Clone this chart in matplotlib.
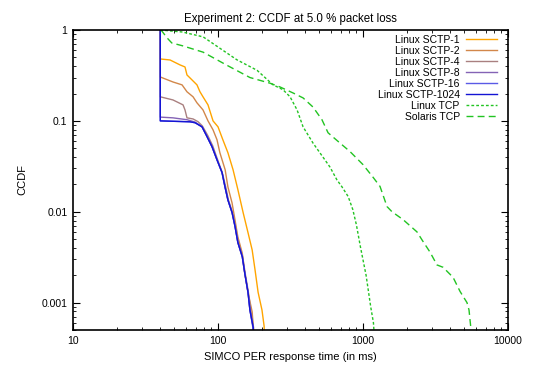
import matplotlib
matplotlib.use("Agg")
import matplotlib.pyplot as plt
from matplotlib.ticker import LogLocator, FixedLocator, FixedFormatter, NullFormatter

plt.rcParams['font.family'] = ['Liberation Sans', 'DejaVu Sans']

# response time (ms) / CCDF pairs for each configuration
sctp1_x = [40, 40, 46.7, 54.7, 59.2, 61.1, 64.1, 71.6, 75.1, 78.8, 85.3, 92.4, 100, 108, 117, 127, 137, 149, 161, 172, 180, 189, 201, 208, 209]
sctp1_y = [1.0, 0.48, 0.468, 0.413, 0.392, 0.32, 0.297, 0.249, 0.209, 0.184, 0.15, 0.1, 0.086, 0.062, 0.0447, 0.029, 0.0176, 0.0098, 0.0059, 0.0038, 0.0023, 0.0013, 0.00083, 0.00055, 0.0004]

sctp2_x = [40, 40, 48.9, 56.5, 61.1, 67.3, 71.6, 78.8, 85.3, 92.4, 98.4, 103, 112, 117, 125, 131, 137, 147, 153, 161, 172, 175, 176]
sctp2_y = [1.0, 0.304, 0.268, 0.249, 0.209, 0.184, 0.158, 0.132, 0.1, 0.0797, 0.062, 0.0447, 0.029, 0.0188, 0.0125, 0.0081, 0.0053, 0.0035, 0.0021, 0.0013, 0.00079, 0.00055, 0.0004]

sctp4_x = [40, 40, 48.9, 57.4, 59.2, 61.1, 67.3, 72.8, 78, 85, 92, 99, 107, 113, 118, 126, 132, 138, 148, 154, 162, 168, 176, 177]
sctp4_y = [1.0, 0.184, 0.17, 0.15, 0.132, 0.108, 0.105, 0.098, 0.088, 0.069, 0.053, 0.038, 0.027, 0.0188, 0.0135, 0.0098, 0.0069, 0.0046, 0.0032, 0.0021, 0.0013, 0.00083, 0.00053, 0.0004]

sctp8_x = [40, 40, 48.9, 61.1, 69.5, 77.6, 84, 91, 98.4, 106.6, 111.7, 117, 125, 131, 137, 147, 153, 161, 166, 174, 175]
sctp8_y = [1.0, 0.11, 0.108, 0.103, 0.097, 0.086, 0.068, 0.052, 0.0373, 0.027, 0.0188, 0.0135, 0.0098, 0.0069, 0.0046, 0.0032, 0.0021, 0.0013, 0.00083, 0.00053, 0.0004]

sctp16_x = [40, 40, 64.1, 69.5, 77.6, 84, 90.9, 98.4, 106.6, 111.7, 117, 125, 131, 137, 147, 153, 161, 166, 175, 176]
sctp16_y = [1.0, 0.1, 0.0977, 0.0954, 0.086, 0.067, 0.052, 0.0373, 0.027, 0.0188, 0.0135, 0.0098, 0.0069, 0.0046, 0.0032, 0.0021, 0.0013, 0.00083, 0.00053, 0.0004]

sctp1024_x = [40, 40, 64.1, 69.5, 77.6, 84, 90.9, 98.4, 106.6, 111.7, 117, 125, 131, 137, 147, 153, 161, 166, 175, 176]
sctp1024_y = [1.0, 0.1, 0.0977, 0.0954, 0.086, 0.067, 0.052, 0.0373, 0.027, 0.0188, 0.0135, 0.0098, 0.0069, 0.0046, 0.0032, 0.0021, 0.0013, 0.00083, 0.00053, 0.0004]

linux_tcp_x = [40, 57, 79, 103, 135, 186, 239, 281, 314, 351, 386, 452, 529, 592, 660, 716, 790, 850, 900, 960, 1050, 1130, 1180, 1200]
linux_tcp_y = [1.0, 0.95, 0.84, 0.63, 0.47, 0.36, 0.25, 0.22, 0.184, 0.132, 0.086, 0.057, 0.040, 0.031, 0.0225, 0.0188, 0.0147, 0.0106, 0.0072, 0.0041, 0.0020, 0.0009, 0.0006, 0.0004]

solaris_tcp_x = [40, 41, 44.5, 48, 57, 79, 115, 166, 228, 268, 329, 386, 452, 521, 574, 694, 813, 1000, 1172, 1310, 1464, 1585, 1888, 2357, 2552, 2897, 3236, 3563, 4178, 4667, 5213, 5383, 5559, 5600]
solaris_tcp_y = [1.0, 0.975, 0.82, 0.72, 0.67, 0.57, 0.41, 0.30, 0.26, 0.236, 0.203, 0.179, 0.142, 0.103, 0.074, 0.057, 0.046, 0.033, 0.024, 0.019, 0.0114, 0.010, 0.0082, 0.006, 0.0049, 0.0036, 0.0026, 0.00245, 0.0019, 0.00133, 0.001, 0.00083, 0.0005, 0.0004]

fig = plt.figure(figsize=(5.36, 3.65), dpi=100)
ax = fig.add_axes([0.1362, 0.0959, 0.8116, 0.8219])

sctp = [
    (sctp1_x, sctp1_y, '#ffa500', 'Linux SCTP-1'),
    (sctp2_x, sctp2_y, '#d2874a', 'Linux SCTP-2'),
    (sctp4_x, sctp4_y, '#a98080', 'Linux SCTP-4'),
    (sctp8_x, sctp8_y, '#8463b5', 'Linux SCTP-8'),
    (sctp16_x, sctp16_y, '#5a5ae6', 'Linux SCTP-16'),
    (sctp1024_x, sctp1024_y, '#1414d4', 'Linux SCTP-1024'),
]
for xs, ys, c, lab in sctp:
    ax.plot(xs, ys, color=c, lw=1.0, label=lab)

ax.plot(linux_tcp_x, linux_tcp_y, color='#22c422', lw=1.0, dashes=(2, 1.5), label='Linux TCP')
ax.plot(solaris_tcp_x, solaris_tcp_y, color='#22c422', lw=1.0, dashes=(5, 3), label='Solaris TCP')

ax.set_xscale('log')
ax.set_yscale('log')
ax.set_xlim(10, 10000)
ax.set_ylim(0.0005, 1)

ax.xaxis.set_major_locator(FixedLocator([10, 100, 1000, 10000]))
ax.xaxis.set_major_formatter(FixedFormatter(['10', '100', '1000', '10000']))
ax.yaxis.set_major_locator(FixedLocator([0.001, 0.01, 0.1, 1]))
ax.yaxis.set_major_formatter(FixedFormatter(['0.001', '0.01', '0.1', '1']))
ax.xaxis.set_minor_locator(LogLocator(base=10, subs=range(2, 10), numticks=20))
ax.yaxis.set_minor_locator(LogLocator(base=10, subs=range(2, 10), numticks=20))
ax.xaxis.set_minor_formatter(NullFormatter())
ax.yaxis.set_minor_formatter(NullFormatter())

ax.tick_params(which='both', direction='in', top=True, right=True, labelsize=7.5, pad=4)
ax.tick_params(which='major', length=5, width=0.8)
ax.tick_params(which='minor', length=2.5, width=0.6)
for sp in ax.spines.values():
    sp.set_linewidth(1.2)

ax.set_title('Experiment 2: CCDF at 5.0 % packet loss', fontsize=8.3, pad=6)
ax.set_xlabel('SIMCO PER response time (in ms)', fontsize=8, labelpad=5)
ax.set_ylabel('CCDF', fontsize=8, labelpad=10)

leg = ax.legend(loc='upper right', bbox_to_anchor=(0.975, 0.985), frameon=False,
                markerfirst=False, fontsize=7.5, handlelength=3.0, handletextpad=0.6,
                labelspacing=0.1, borderpad=0, borderaxespad=0)

fig.savefig('out.png', dpi=100)
